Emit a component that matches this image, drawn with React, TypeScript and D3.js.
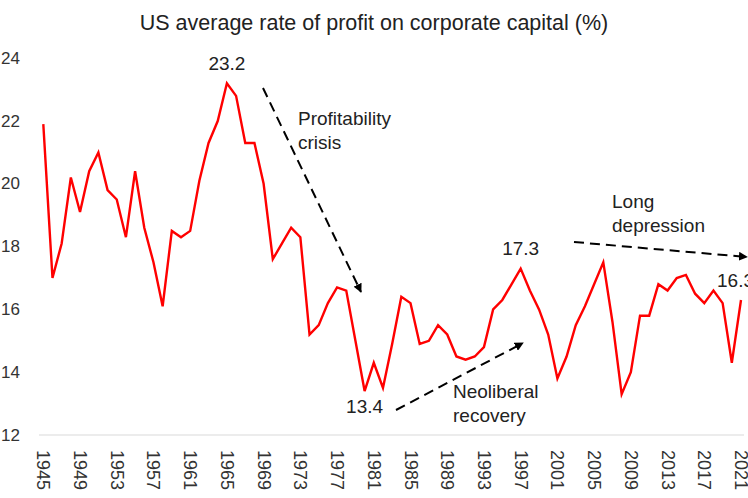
import React from "react";
import * as d3 from "d3";

const startYear = 1945;
const values: number[] = [
  21.9, 17.0, 18.1, 20.2, 19.1, 20.4, 21.0, 19.8, 19.5, 18.3,
  20.4, 18.6, 17.5, 16.1, 18.5, 18.3, 18.5, 20.1, 21.3, 22.0,
  23.2, 22.8, 21.3, 21.3, 20.0, 17.6, 18.1, 18.6, 18.3, 15.2,
  15.5, 16.2, 16.7, 16.6, 15.0, 13.4, 14.3, 13.5, 14.9, 16.4,
  16.2, 14.9, 15.0, 15.5, 15.2, 14.5, 14.4, 14.5, 14.8, 16.0,
  16.3, 16.8, 17.3, 16.6, 16.0, 15.2, 13.8, 14.5, 15.5, 16.1,
  16.8, 17.5, 15.6, 13.3, 14.0, 15.8, 15.8, 16.8, 16.6, 17.0,
  17.1, 16.5, 16.2, 16.6, 16.2, 14.3, 16.3,
];
const years: number[] = values.map((_, i) => startYear + i);
const yTicks: number[] = [12, 14, 16, 18, 20, 22, 24];
const xTickYears: number[] = years.filter((y) => (y - 1945) % 4 === 0);

const title = "US average rate of profit on corporate capital (%)";

const valueLabels = [
  { year: 1965, text: "23.2", dx: 0, y: 70, anchor: "middle" },
  { year: 1980, text: "13.4", dx: 0, y: 413, anchor: "middle" },
  { year: 1997, text: "17.3", dx: 0, y: 255, anchor: "middle" },
  { year: 2021, text: "16.3", dx: -24, y: 287, anchor: "start" },
];

const FONT = "'Liberation Sans', Arial, sans-serif";

export default function App() {
  const W = 748;
  const H = 498;
  const x = d3.scalePoint<number>().domain(years).range([43.3, 741]);
  const y = d3.scaleLinear().domain([12, 24]).range([435, 58.2]);
  const line = d3
    .line<number>()
    .x((_, i) => x(years[i]) as number)
    .y((d) => y(d));

  const arrows = [
    { x1: 263, y1: 88, x2: 361, y2: 292 },
    { x1: 396, y1: 410, x2: 523, y2: 343 },
    { x1: 574, y1: 242, x2: 747, y2: 257 },
  ];

  return (
    <svg
      width={W}
      height={H}
      style={{ position: "absolute", left: 0, top: 0, background: "#fff" }}
      fontFamily={FONT}
    >
      <defs>
        <marker
          id="ah"
          viewBox="0 0 10 10"
          refX="9"
          refY="5"
          markerWidth="4.5"
          markerHeight="4.5"
          orient="auto"
          markerUnits="strokeWidth"
        >
          <path d="M0,0 L10,5 L0,10 z" fill="#000" />
        </marker>
      </defs>
      <rect width={W} height={H} fill="#fff" />
      <text x={374} y={30} textAnchor="middle" fontSize={21.5} fill="#222">
        {title}
      </text>
      {yTicks.map((t) => (
        <text
          key={t}
          x={20}
          y={y(t)}
          textAnchor="end"
          dominantBaseline="central"
          fontSize={17}
          fill="#333"
        >
          {t}
        </text>
      ))}
      <line x1={39} x2={744} y1={y(12)} y2={y(12)} stroke="#d9d9d9" strokeWidth={1} />
      {xTickYears.map((yr) => (
        <text
          key={yr}
          transform={`translate(${x(yr)},450) rotate(90)`}
          textAnchor="start"
          dominantBaseline="central"
          fontSize={18}
          fill="#333"
        >
          {yr}
        </text>
      ))}
      <path d={line(values) || ""} fill="none" stroke="#ff0000" strokeWidth={2.4} strokeLinejoin="miter" />
      {valueLabels.map((l) => (
        <text
          key={l.text}
          x={(x(l.year) as number) + l.dx}
          y={l.y}
          textAnchor={l.anchor as any}
          fontSize={19}
          fill="#222"
        >
          {l.text}
        </text>
      ))}
      {arrows.map((a, i) => (
        <line
          key={i}
          x1={a.x1}
          y1={a.y1}
          x2={a.x2}
          y2={a.y2}
          stroke="#000"
          strokeWidth={2}
          strokeDasharray="10 6"
          markerEnd="url(#ah)"
        />
      ))}
      <text fontSize={19} fill="#222">
        <tspan x={298} y={125}>Profitability</tspan>
        <tspan x={298} y={149}>crisis</tspan>
      </text>
      <text fontSize={19} fill="#222">
        <tspan x={453} y={398}>Neoliberal</tspan>
        <tspan x={453} y={422}>recovery</tspan>
      </text>
      <text fontSize={19} fill="#222">
        <tspan x={612} y={208}>Long</tspan>
        <tspan x={612} y={232}>depression</tspan>
      </text>
    </svg>
  );
}
